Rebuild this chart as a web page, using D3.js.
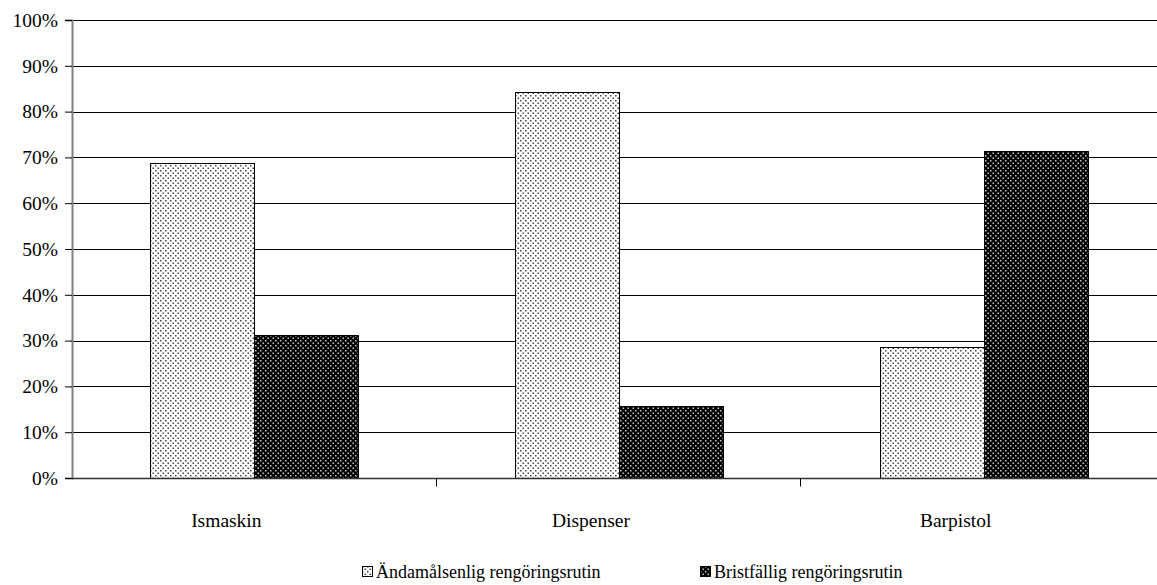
<!DOCTYPE html>
<html>
<head>
<meta charset="utf-8">
<script src="https://cdn.jsdelivr.net/npm/d3@7"></script>
<style>
  html, body { margin: 0; padding: 0; background: #fff; }
  svg { display: block; }
  svg text { font-family: "Liberation Serif", "Times New Roman", "DejaVu Serif", serif; }
</style>
</head>
<body>
<svg id="chart" width="1157" height="585"></svg>
<script>
// Share of inspected equipment by cleaning routine
const categories = ["Ismaskin", "Dispenser", "Barpistol"];
const seriesNames = ["Ändamålsenlig rengöringsrutin", "Bristfällig rengöringsrutin"];
const adequate = [0.6875, 0.842, 0.286];
const deficient = [0.3125, 0.158, 0.714];
const yTicks = [0, 0.1, 0.2, 0.3, 0.4, 0.5, 0.6, 0.7, 0.8, 0.9, 1.0];

const series = [
  { name: seriesNames[0], values: adequate, fill: "url(#dotsLight)" },
  { name: seriesNames[1], values: deficient, fill: "url(#dotsDark)" }
];

const svg = d3.select("#chart");
const margin = { left: 72, top: 20, right: -9, bottom: 107 };
const W = 1157, H = 585;
const AXIS_FS = 19.5, LEGEND_FS = 18;

// Dotted fills for the two series
const defs = svg.append("defs");
function dots(id, bg, fg) {
  const p = defs.append("pattern").attr("id", id)
    .attr("width", 5).attr("height", 5).attr("patternUnits", "userSpaceOnUse");
  p.append("rect").attr("width", 5).attr("height", 5).attr("fill", bg);
  p.append("rect").attr("x", 0).attr("y", 0).attr("width", 1.5).attr("height", 1.5).attr("fill", fg);
  p.append("rect").attr("x", 2.5).attr("y", 2.5).attr("width", 1.5).attr("height", 1.5).attr("fill", fg);
}
dots("dotsLight", "#fff", "#444");
dots("dotsDark", "#000", "#c8c8c8");

const x = d3.scaleBand().domain(categories)
  .range([margin.left, W - margin.right]).paddingInner(0).paddingOuter(0);
// two bars of ~104px centred in each 365px category
const x1 = d3.scaleBand().domain(seriesNames)
  .range([0, x.bandwidth()]).paddingInner(0).paddingOuter(0.755);
const y = d3.scaleLinear().domain([0, 1]).range([H - margin.bottom, margin.top]);

// Horizontal gridlines
svg.append("g").selectAll("line").data(yTicks.slice(1)).join("line")
  .attr("x1", margin.left).attr("x2", W)
  .attr("y1", d => Math.round(y(d)) + 0.5).attr("y2", d => Math.round(y(d)) + 0.5)
  .attr("stroke", "#000").attr("stroke-width", 1);

// Bars
svg.append("g").selectAll("g").data(series).join("g")
  .each(function (s) {
    d3.select(this).selectAll("rect").data(s.values.map((v, i) => ({ v, c: categories[i] }))).join("rect")
      .attr("x", d => Math.round(x(d.c) + x1(s.name)) + 0.5)
      .attr("width", Math.round(x1.bandwidth()))
      .attr("y", d => Math.round(y(d.v)) + 0.5)
      .attr("height", d => Math.round(y(0)) - Math.round(y(d.v)))
      .attr("fill", s.fill)
      .attr("stroke", "#000").attr("stroke-width", 1);
  });

// Y axis
const yAxis = svg.append("g").attr("transform", `translate(${margin.left},0)`)
  .call(d3.axisLeft(y).tickValues(yTicks).tickFormat(d3.format(".0%")).tickSize(7).tickPadding(7));
yAxis.attr("font-family", null).attr("font-size", null);
yAxis.select(".domain").attr("stroke", "#808080").attr("stroke-width", 2);
yAxis.selectAll(".tick line").attr("stroke", "#000");
yAxis.selectAll(".tick text").attr("font-size", AXIS_FS).attr("fill", "#000");

// X axis
const xAxis = svg.append("g").attr("transform", `translate(0,${Math.round(y(0)) + 0.5})`)
  .call(d3.axisBottom(x).tickSize(0).tickPadding(0));
xAxis.attr("font-family", null).attr("font-size", null);
xAxis.select(".domain").remove();
xAxis.append("line").attr("x1", margin.left).attr("x2", W).attr("y1", 0).attr("y2", 0)
  .attr("stroke", "#333").attr("stroke-width", 1.5);
xAxis.selectAll(".tick text").attr("font-size", AXIS_FS).attr("fill", "#000")
  .attr("dy", 0).attr("y", 48).attr("dx", -28);
// Category separators
xAxis.append("g").selectAll("line").data(categories.slice(1)).join("line")
  .attr("x1", d => Math.round(x(d)) - 0.5).attr("x2", d => Math.round(x(d)) - 0.5)
  .attr("y1", 0).attr("y2", 8).attr("stroke", "#000").attr("stroke-width", 1);

// Legend
const legendItems = [
  { name: seriesNames[0], fill: "url(#dotsLight)", x: 362 },
  { name: seriesNames[1], fill: "url(#dotsDark)", x: 700 }
];
const lg = svg.append("g").selectAll("g").data(legendItems).join("g")
  .attr("transform", d => `translate(${d.x},566)`);
lg.append("rect").attr("x", 0.5).attr("y", 0.5).attr("width", 10).attr("height", 10)
  .attr("fill", d => d.fill).attr("stroke", "#000");
lg.append("text").attr("x", 14).attr("y", 12).attr("font-size", LEGEND_FS).attr("fill", "#000")
  .text(d => d.name);
</script>
</body>
</html>
